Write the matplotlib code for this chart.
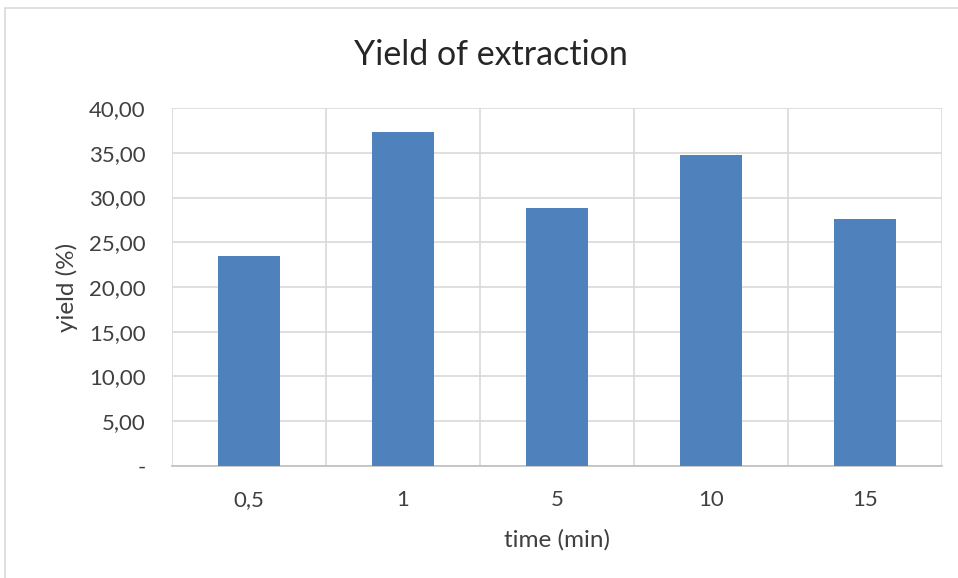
import matplotlib
matplotlib.use("Agg")
import matplotlib.pyplot as plt
from matplotlib.patches import Rectangle
import numpy as np

# ----------------- Data -----------------
times = ["0,5", "1", "5", "10", "15"]
yields = [23.42, 37.36, 28.88, 34.76, 27.62]
y_ticks = [0, 5, 10, 15, 20, 25, 30, 35, 40]

BAR_COLOR = "#4f81bd"
GRID_COLOR = "#d9d9d9"
TEXT_COLOR = "#404040"

plt.rcParams["font.family"] = ["Lato", "DejaVu Sans"]


def fmt_tick(v):
    """Excel-style accounting format: dash for zero, comma decimals."""
    if v == 0:
        return "-"
    return f"{v:.2f}".replace(".", ",")


# ----------------- Plot -----------------
fig = plt.figure(figsize=(9.58, 5.78), dpi=100)
ax = fig.add_axes([0.1795, 0.1938, 0.8038, 0.6193])

x = np.arange(len(times))
ax.bar(x, yields, width=0.4, color=BAR_COLOR, zorder=3)

ax.set_xlim(-0.5, len(times) - 0.5)
ax.set_ylim(0, 40)
ax.set_yticks(y_ticks)
ax.set_yticklabels([fmt_tick(v) for v in y_ticks])
ax.set_xticks(x)
ax.set_xticklabels(times)

# vertical grid between categories, horizontal at each tick
for b in np.arange(-0.5, len(times), 1.0):
    ax.axvline(b, color=GRID_COLOR, lw=1.2, zorder=1)
ax.yaxis.grid(True, color=GRID_COLOR, lw=1.2, zorder=1)
ax.set_axisbelow(True)

for side in ["top", "right", "left"]:
    ax.spines[side].set_visible(False)
ax.spines["bottom"].set_color("#bfbfbf")
ax.spines["bottom"].set_linewidth(1.2)

ax.tick_params(axis="both", length=0, labelsize=16, colors=TEXT_COLOR)
ax.tick_params(axis="y", pad=19)
ax.tick_params(axis="x", pad=17)

ax.set_xlabel("time (min)", fontsize=17.5, color=TEXT_COLOR, labelpad=14)
ax.set_ylabel("yield (%)", fontsize=17.5, color=TEXT_COLOR, labelpad=8)
fig.text(0.5125, 0.905, "Yield of extraction", ha="center", va="center",
         fontsize=24.5, color="#262626")

# chart area border
fig.add_artist(Rectangle((5 / 958, -0.01), 1.0, 1 - 8 / 578 + 0.01,
                         transform=fig.transFigure, fill=False,
                         edgecolor=GRID_COLOR, lw=1.2))

fig.savefig("out.png", dpi=100)
plt.close(fig)
